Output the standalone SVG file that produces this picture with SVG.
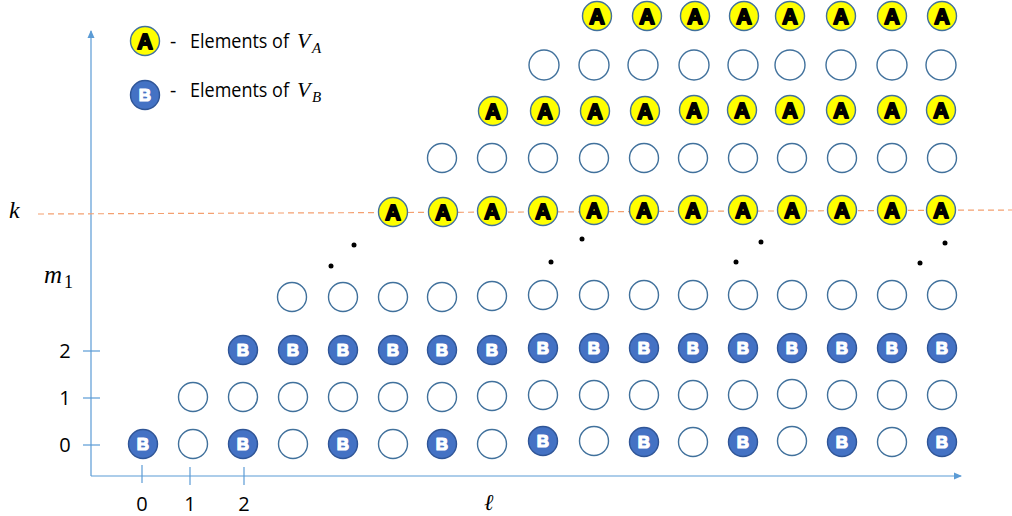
<svg xmlns="http://www.w3.org/2000/svg" width="1012" height="516" viewBox="0 0 1012 516">
<style>
.o{fill:#fff;stroke:#41719c;stroke-width:1.4}
.a{fill:#ffff00;stroke:#41719c;stroke-width:1.4}
.b{fill:#4472c4;stroke:#2f5597;stroke-width:1.4}
.ta{font-family:"Liberation Sans",Arial,sans-serif;font-weight:bold;font-size:21.5px;fill:#000;stroke:#000;stroke-width:1.9;stroke-linejoin:round;text-anchor:middle}
.tb{font-family:"Liberation Sans",Arial,sans-serif;font-weight:bold;font-size:17px;fill:#fff;stroke:#fff;stroke-width:1.2;stroke-linejoin:round;text-anchor:middle}
.lbl{font-family:"Open Sans","Liberation Sans",sans-serif;font-size:19.5px;fill:#000}
.num{font-family:"Open Sans","Liberation Sans",sans-serif;font-size:20px;fill:#000;text-anchor:middle}
.math{font-family:"Liberation Serif","DejaVu Serif",serif;font-style:italic;fill:#000}
.ax{stroke:#5b9bd5;stroke-width:1.2;fill:none}
.dot{fill:#000}
</style>
<defs>
<marker id="arr" viewBox="0 0 8 8" refX="7" refY="4" markerWidth="8" markerHeight="8" markerUnits="userSpaceOnUse" orient="auto">
<path d="M0,0.5 L8,4 L0,7.5 Z" fill="#5b9bd5"/>
</marker>
</defs>

<g id="axes">
<line class="ax" x1="91" y1="476" x2="91" y2="31" marker-end="url(#arr)"/>
<line class="ax" x1="91" y1="476" x2="961" y2="476" marker-end="url(#arr)"/>
<line class="ax" x1="83" y1="351" x2="100" y2="351"/>
<line class="ax" x1="83" y1="398" x2="100" y2="398"/>
<line class="ax" x1="83" y1="445" x2="100" y2="445"/>
<line class="ax" x1="142" y1="465" x2="142" y2="483"/>
<line class="ax" x1="190" y1="467" x2="190" y2="485"/>
<line class="ax" x1="244" y1="467" x2="244" y2="485"/>
<line x1="38" y1="214" x2="1012" y2="210" stroke="#f4a070" stroke-width="1.2" stroke-dasharray="6 4"/>
</g>

<g id="labels">
<text class="num" x="65" y="358">2</text>
<text class="num" x="65" y="405">1</text>
<text class="num" x="65" y="452">0</text>
<text class="num" x="142" y="511">0</text>
<text class="num" x="190" y="511">1</text>
<text class="num" x="244" y="511">2</text>
<text class="math" x="484" y="510" font-size="23">ℓ</text>
<text class="math" x="9" y="218" font-size="24">k</text>
<text class="math" x="44" y="283" font-size="25">m</text>
<text x="64" y="288" font-family="Liberation Serif,DejaVu Serif,serif" font-size="18">1</text>
</g>

<g id="legend">
<g id="legend-A">
<circle class="a" cx="145" cy="41" r="14.5"/>
<text class="ta" x="145" y="48.5">A</text>
<text class="lbl" x="170" y="48">-</text>
<text class="lbl" x="190" y="48" textLength="99" lengthAdjust="spacingAndGlyphs">Elements of</text>
<text class="math" x="297" y="48" font-size="22">V</text>
<text class="math" x="312" y="53" font-size="15">A</text>
</g>
<g id="legend-B">
<circle class="b" cx="145" cy="95" r="14.5"/>
<text class="tb" x="145" y="101">B</text>
<text class="lbl" x="170" y="97">-</text>
<text class="lbl" x="190" y="97" textLength="99" lengthAdjust="spacingAndGlyphs">Elements of</text>
<text class="math" x="297" y="97" font-size="22">V</text>
<text class="math" x="312" y="102" font-size="15">B</text>
</g>
</g>

<g id="dots">
<circle class="dot" cx="331" cy="266" r="2.5"/>
<circle class="dot" cx="354" cy="245" r="2.5"/>
<circle class="dot" cx="551" cy="262" r="2.5"/>
<circle class="dot" cx="582" cy="239" r="2.5"/>
<circle class="dot" cx="736" cy="262" r="2.5"/>
<circle class="dot" cx="761" cy="242" r="2.5"/>
<circle class="dot" cx="920" cy="263" r="2.5"/>
<circle class="dot" cx="945" cy="243" r="2.5"/>
</g>

<g id="nodes">
<!-- row 0 -->
<g id="r0c0"><circle class="b" cx="143" cy="444" r="14.5"/><text class="tb" x="143" y="450">B</text></g>
<g id="r0c1"><circle class="o" cx="193" cy="444" r="14.5"/></g>
<g id="r0c2"><circle class="b" cx="243" cy="444" r="14.5"/><text class="tb" x="243" y="450">B</text></g>
<g id="r0c3"><circle class="o" cx="293" cy="444" r="14.5"/></g>
<g id="r0c4"><circle class="b" cx="343" cy="444" r="14.5"/><text class="tb" x="343" y="450">B</text></g>
<g id="r0c5"><circle class="o" cx="393" cy="444" r="14.5"/></g>
<g id="r0c6"><circle class="b" cx="442" cy="444" r="14.5"/><text class="tb" x="442" y="450">B</text></g>
<g id="r0c7"><circle class="o" cx="492" cy="444" r="14.5"/></g>
<g id="r0c8"><circle class="b" cx="543" cy="441" r="14.5"/><text class="tb" x="543" y="447">B</text></g>
<g id="r0c9"><circle class="o" cx="594" cy="441" r="14.5"/></g>
<g id="r0c10"><circle class="b" cx="644" cy="442" r="14.5"/><text class="tb" x="644" y="448">B</text></g>
<g id="r0c11"><circle class="o" cx="693" cy="442" r="14.5"/></g>
<g id="r0c12"><circle class="b" cx="743" cy="442" r="14.5"/><text class="tb" x="743" y="448">B</text></g>
<g id="r0c13"><circle class="o" cx="792" cy="441" r="14.5"/></g>
<g id="r0c14"><circle class="b" cx="842" cy="442" r="14.5"/><text class="tb" x="842" y="448">B</text></g>
<g id="r0c15"><circle class="o" cx="892" cy="442" r="14.5"/></g>
<g id="r0c16"><circle class="b" cx="942" cy="442" r="14.5"/><text class="tb" x="942" y="448">B</text></g>
<!-- row 1 -->
<g id="r1c1"><circle class="o" cx="193" cy="397" r="14.5"/></g>
<g id="r1c2"><circle class="o" cx="243" cy="397" r="14.5"/></g>
<g id="r1c3"><circle class="o" cx="293" cy="397" r="14.5"/></g>
<g id="r1c4"><circle class="o" cx="343" cy="397" r="14.5"/></g>
<g id="r1c5"><circle class="o" cx="393" cy="397" r="14.5"/></g>
<g id="r1c6"><circle class="o" cx="442" cy="397" r="14.5"/></g>
<g id="r1c7"><circle class="o" cx="492" cy="396" r="14.5"/></g>
<g id="r1c8"><circle class="o" cx="543" cy="395" r="14.5"/></g>
<g id="r1c9"><circle class="o" cx="594" cy="395" r="14.5"/></g>
<g id="r1c10"><circle class="o" cx="644" cy="395" r="14.5"/></g>
<g id="r1c11"><circle class="o" cx="693" cy="395" r="14.5"/></g>
<g id="r1c12"><circle class="o" cx="743" cy="395" r="14.5"/></g>
<g id="r1c13"><circle class="o" cx="792" cy="394" r="14.5"/></g>
<g id="r1c14"><circle class="o" cx="842" cy="395" r="14.5"/></g>
<g id="r1c15"><circle class="o" cx="892" cy="395" r="14.5"/></g>
<g id="r1c16"><circle class="o" cx="942" cy="395" r="14.5"/></g>
<!-- row 2 -->
<g id="r2c2"><circle class="b" cx="243" cy="350" r="14.5"/><text class="tb" x="243" y="356">B</text></g>
<g id="r2c3"><circle class="b" cx="293" cy="350" r="14.5"/><text class="tb" x="293" y="356">B</text></g>
<g id="r2c4"><circle class="b" cx="343" cy="350" r="14.5"/><text class="tb" x="343" y="356">B</text></g>
<g id="r2c5"><circle class="b" cx="393" cy="350" r="14.5"/><text class="tb" x="393" y="356">B</text></g>
<g id="r2c6"><circle class="b" cx="442" cy="350" r="14.5"/><text class="tb" x="442" y="356">B</text></g>
<g id="r2c7"><circle class="b" cx="492" cy="350" r="14.5"/><text class="tb" x="492" y="356">B</text></g>
<g id="r2c8"><circle class="b" cx="543" cy="348" r="14.5"/><text class="tb" x="543" y="354">B</text></g>
<g id="r2c9"><circle class="b" cx="594" cy="348" r="14.5"/><text class="tb" x="594" y="354">B</text></g>
<g id="r2c10"><circle class="b" cx="644" cy="348" r="14.5"/><text class="tb" x="644" y="354">B</text></g>
<g id="r2c11"><circle class="b" cx="693" cy="348" r="14.5"/><text class="tb" x="693" y="354">B</text></g>
<g id="r2c12"><circle class="b" cx="743" cy="348" r="14.5"/><text class="tb" x="743" y="354">B</text></g>
<g id="r2c13"><circle class="b" cx="792" cy="348" r="14.5"/><text class="tb" x="792" y="354">B</text></g>
<g id="r2c14"><circle class="b" cx="842" cy="348" r="14.5"/><text class="tb" x="842" y="354">B</text></g>
<g id="r2c15"><circle class="b" cx="892" cy="348" r="14.5"/><text class="tb" x="892" y="354">B</text></g>
<g id="r2c16"><circle class="b" cx="942" cy="348" r="14.5"/><text class="tb" x="942" y="354">B</text></g>
<!-- row m1 -->
<g id="rmc3"><circle class="o" cx="292" cy="297" r="14.5"/></g>
<g id="rmc4"><circle class="o" cx="343" cy="297" r="14.5"/></g>
<g id="rmc5"><circle class="o" cx="393" cy="297" r="14.5"/></g>
<g id="rmc6"><circle class="o" cx="442" cy="297" r="14.5"/></g>
<g id="rmc7"><circle class="o" cx="492" cy="296" r="14.5"/></g>
<g id="rmc8"><circle class="o" cx="543" cy="295" r="14.5"/></g>
<g id="rmc9"><circle class="o" cx="594" cy="295" r="14.5"/></g>
<g id="rmc10"><circle class="o" cx="644" cy="295" r="14.5"/></g>
<g id="rmc11"><circle class="o" cx="693" cy="295" r="14.5"/></g>
<g id="rmc12"><circle class="o" cx="743" cy="295" r="14.5"/></g>
<g id="rmc13"><circle class="o" cx="792" cy="295" r="14.5"/></g>
<g id="rmc14"><circle class="o" cx="842" cy="295" r="14.5"/></g>
<g id="rmc15"><circle class="o" cx="892" cy="295" r="14.5"/></g>
<g id="rmc16"><circle class="o" cx="942" cy="295" r="14.5"/></g>
<!-- row k -->
<g id="rkc5"><circle class="a" cx="393" cy="212" r="14.5"/><text class="ta" x="393" y="219.5">A</text></g>
<g id="rkc6"><circle class="a" cx="443" cy="212" r="14.5"/><text class="ta" x="443" y="219.5">A</text></g>
<g id="rkc7"><circle class="a" cx="492" cy="211" r="14.5"/><text class="ta" x="492" y="218.5">A</text></g>
<g id="rkc8"><circle class="a" cx="543" cy="211" r="14.5"/><text class="ta" x="543" y="218.5">A</text></g>
<g id="rkc9"><circle class="a" cx="594" cy="210" r="14.5"/><text class="ta" x="594" y="217.5">A</text></g>
<g id="rkc10"><circle class="a" cx="644" cy="210" r="14.5"/><text class="ta" x="644" y="217.5">A</text></g>
<g id="rkc11"><circle class="a" cx="693" cy="210" r="14.5"/><text class="ta" x="693" y="217.5">A</text></g>
<g id="rkc12"><circle class="a" cx="743" cy="210" r="14.5"/><text class="ta" x="743" y="217.5">A</text></g>
<g id="rkc13"><circle class="a" cx="792" cy="210" r="14.5"/><text class="ta" x="792" y="217.5">A</text></g>
<g id="rkc14"><circle class="a" cx="842" cy="210" r="14.5"/><text class="ta" x="842" y="217.5">A</text></g>
<g id="rkc15"><circle class="a" cx="892" cy="210" r="14.5"/><text class="ta" x="892" y="217.5">A</text></g>
<g id="rkc16"><circle class="a" cx="941" cy="210" r="14.5"/><text class="ta" x="941" y="217.5">A</text></g>
<!-- row k+1 -->
<g id="r5c6"><circle class="o" cx="442" cy="158" r="14.5"/></g>
<g id="r5c7"><circle class="o" cx="492" cy="158" r="14.5"/></g>
<g id="r5c8"><circle class="o" cx="543" cy="158" r="14.5"/></g>
<g id="r5c9"><circle class="o" cx="594" cy="158" r="14.5"/></g>
<g id="r5c10"><circle class="o" cx="644" cy="158" r="14.5"/></g>
<g id="r5c11"><circle class="o" cx="693" cy="158" r="14.5"/></g>
<g id="r5c12"><circle class="o" cx="743" cy="158" r="14.5"/></g>
<g id="r5c13"><circle class="o" cx="792" cy="158" r="14.5"/></g>
<g id="r5c14"><circle class="o" cx="842" cy="158" r="14.5"/></g>
<g id="r5c15"><circle class="o" cx="892" cy="158" r="14.5"/></g>
<g id="r5c16"><circle class="o" cx="942" cy="158" r="14.5"/></g>
<!-- row A2 -->
<g id="r6c7"><circle class="a" cx="493" cy="111" r="14.5"/><text class="ta" x="493" y="118.5">A</text></g>
<g id="r6c8"><circle class="a" cx="545" cy="111" r="14.5"/><text class="ta" x="545" y="118.5">A</text></g>
<g id="r6c9"><circle class="a" cx="595" cy="111" r="14.5"/><text class="ta" x="595" y="118.5">A</text></g>
<g id="r6c10"><circle class="a" cx="645" cy="111" r="14.5"/><text class="ta" x="645" y="118.5">A</text></g>
<g id="r6c11"><circle class="a" cx="694" cy="110" r="14.5"/><text class="ta" x="694" y="117.5">A</text></g>
<g id="r6c12"><circle class="a" cx="742" cy="110" r="14.5"/><text class="ta" x="742" y="117.5">A</text></g>
<g id="r6c13"><circle class="a" cx="790" cy="110" r="14.5"/><text class="ta" x="790" y="117.5">A</text></g>
<g id="r6c14"><circle class="a" cx="841" cy="110" r="14.5"/><text class="ta" x="841" y="117.5">A</text></g>
<g id="r6c15"><circle class="a" cx="892" cy="110" r="14.5"/><text class="ta" x="892" y="117.5">A</text></g>
<g id="r6c16"><circle class="a" cx="941" cy="110" r="14.5"/><text class="ta" x="941" y="117.5">A</text></g>
<!-- row open top -->
<g id="r7c8"><circle class="o" cx="544" cy="65" r="15"/></g>
<g id="r7c9"><circle class="o" cx="594" cy="65" r="15"/></g>
<g id="r7c10"><circle class="o" cx="643" cy="65" r="15"/></g>
<g id="r7c11"><circle class="o" cx="694" cy="65" r="15"/></g>
<g id="r7c12"><circle class="o" cx="743" cy="65" r="15"/></g>
<g id="r7c13"><circle class="o" cx="790" cy="65" r="15"/></g>
<g id="r7c14"><circle class="o" cx="841" cy="65" r="15"/></g>
<g id="r7c15"><circle class="o" cx="892" cy="65" r="15"/></g>
<g id="r7c16"><circle class="o" cx="941" cy="65" r="15"/></g>
<!-- top row A -->
<g id="r8c9"><circle class="a" cx="597" cy="16" r="14.5"/><text class="ta" x="597" y="23.5">A</text></g>
<g id="r8c10"><circle class="a" cx="647" cy="16" r="14.5"/><text class="ta" x="647" y="23.5">A</text></g>
<g id="r8c11"><circle class="a" cx="695" cy="16" r="14.5"/><text class="ta" x="695" y="23.5">A</text></g>
<g id="r8c12"><circle class="a" cx="744" cy="16" r="14.5"/><text class="ta" x="744" y="23.5">A</text></g>
<g id="r8c13"><circle class="a" cx="790" cy="16" r="14.5"/><text class="ta" x="790" y="23.5">A</text></g>
<g id="r8c14"><circle class="a" cx="841" cy="16" r="14.5"/><text class="ta" x="841" y="23.5">A</text></g>
<g id="r8c15"><circle class="a" cx="892" cy="16" r="14.5"/><text class="ta" x="892" y="23.5">A</text></g>
<g id="r8c16"><circle class="a" cx="942" cy="16" r="14.5"/><text class="ta" x="942" y="23.5">A</text></g>
</g>
</svg>
